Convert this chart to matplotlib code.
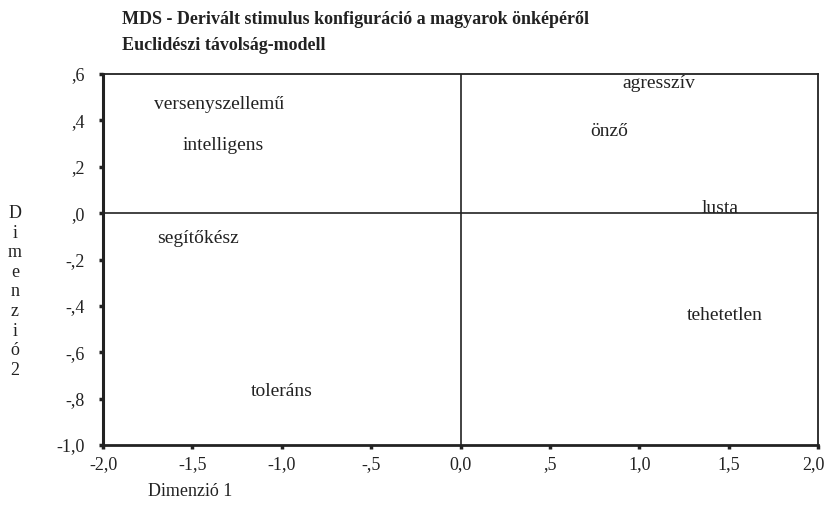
import matplotlib
matplotlib.use("Agg")
import matplotlib.pyplot as plt
import matplotlib.transforms as mtransforms

labels = ["versenyszellemű", "intelligens", "segítőkész", "toleráns",
          "agresszív", "önző", "lusta", "tehetetlen"]
dim1 = [-1.35, -1.33, -1.47, -1.00, 1.11, 0.83, 1.45, 1.48]
dim2 = [0.47, 0.29, -0.11, -0.77, 0.56, 0.35, 0.02, -0.44]

xticks = [-2.0, -1.5, -1.0, -0.5, 0.0, 0.5, 1.0, 1.5, 2.0]
xticklabels = ["-2,0", "-1,5", "-1,0", "-,5", "0,0", ",5", "1,0", "1,5", "2,0"]
yticks = [-1.0, -0.8, -0.6, -0.4, -0.2, 0.0, 0.2, 0.4, 0.6]
yticklabels = ["-1,0", "-,8", "-,6", "-,4", "-,2", ",0", ",2", ",4", ",6"]

plt.rcParams['font.family'] = ['Liberation Serif', 'DejaVu Serif']

fig = plt.figure(figsize=(8.27, 5.07), dpi=100)
W, H = 827, 507
left, right, top, bottom = 103, 818, 74, 445
ax = fig.add_axes([left / W, 1 - bottom / H, (right - left) / W, (bottom - top) / H])
ax.set_xlim(-2.0, 2.0)
ax.set_ylim(-1.0, 0.6)

ax.axhline(0, color='#222222', lw=1.2)
ax.axvline(0, color='#222222', lw=1.2)

for lab, x, y in zip(labels, dim1, dim2):
    ax.text(x, y, lab, ha='center', va='center', fontsize=14, color='#222222')

ax.set_xticks(xticks)
ax.set_xticklabels(xticklabels, fontsize=13, color='#222222')
ax.set_yticks(yticks)
ax.set_yticklabels(yticklabels, fontsize=13, color='#222222')
ax.tick_params(direction='out', length=3, width=2.5, color='#222222')
ax.tick_params(axis='y', pad=10)
ax.tick_params(axis='x', pad=5)
last = ax.get_xticklabels()[-1]
last.set_transform(last.get_transform() +
                   mtransforms.ScaledTranslation(-5 / 100, 0, fig.dpi_scale_trans))
for s in ax.spines.values():
    s.set_linewidth(1.3)
    s.set_color('#222222')
ax.spines['left'].set_linewidth(2.2)
ax.spines['bottom'].set_linewidth(2.0)

fig.text(122 / W, 1 - 20 / H, "MDS - Derivált stimulus konfiguráció a magyarok önképéről",
         fontsize=13, fontweight='bold', ha='left', va='center', color='#222222')
fig.text(122 / W, 1 - 45 / H, "Euclidészi távolság-modell",
         fontsize=13, fontweight='bold', ha='left', va='center', color='#222222')

fig.text(15 / W, 1 - 292 / H, "\n".join("Dimenzió2"), fontsize=13, ha='center',
         va='center', linespacing=1.2, color='#222222')
fig.text(148 / W, 1 - 491 / H, "Dimenzió 1", fontsize=13, ha='left', va='center',
         color='#222222')

fig.savefig("out.png", dpi=100)
